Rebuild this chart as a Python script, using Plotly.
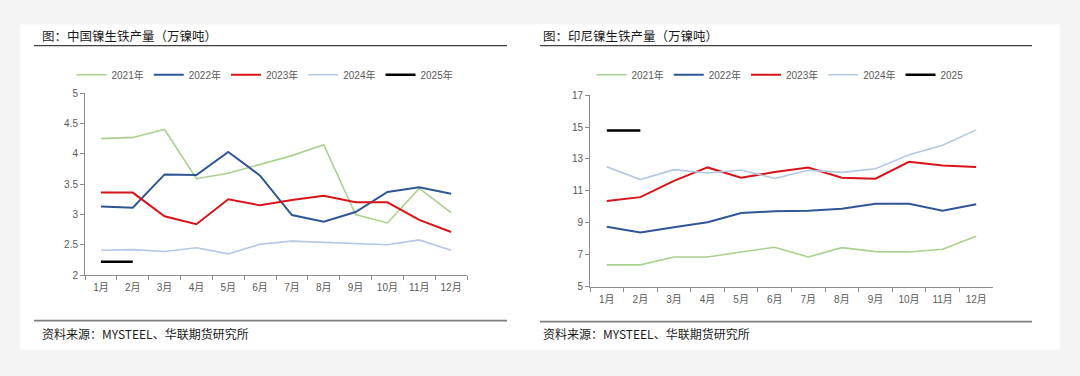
import plotly.graph_objects as go

months = ["1月", "2月", "3月", "4月", "5月", "6月", "7月", "8月", "9月", "10月", "11月", "12月"]

# China nickel pig iron output (10k t Ni)
cn_2021 = [4.25, 4.27, 4.40, 3.59, 3.68, 3.82, 3.97, 4.15, 3.00, 2.86, 3.43, 3.03]
cn_2022 = [3.13, 3.11, 3.66, 3.65, 4.03, 3.64, 2.99, 2.88, 3.04, 3.37, 3.45, 3.34]
cn_2023 = [3.36, 3.36, 2.97, 2.84, 3.25, 3.15, 3.24, 3.31, 3.20, 3.20, 2.91, 2.71]
cn_2024 = [2.41, 2.42, 2.39, 2.45, 2.35, 2.51, 2.56, 2.54, 2.51, 2.50, 2.58, 2.41]
cn_2025 = [2.22, 2.22]

# Indonesia nickel pig iron output (10k t Ni)
id_2021 = [6.37, 6.37, 6.86, 6.86, 7.18, 7.47, 6.86, 7.45, 7.20, 7.18, 7.35, 8.16]
id_2022 = [8.75, 8.39, 8.73, 9.04, 9.61, 9.73, 9.76, 9.88, 10.20, 10.20, 9.76, 10.16]
id_2023 = [10.37, 10.61, 11.63, 12.47, 11.82, 12.18, 12.47, 11.82, 11.76, 12.82, 12.59, 12.49]
id_2024 = [12.51, 11.71, 12.33, 12.12, 12.31, 11.78, 12.29, 12.16, 12.39, 13.27, 13.86, 14.82]
id_2025 = [14.78, 14.78]

cn_names = ["2021年", "2022年", "2023年", "2024年", "2025年"]
id_names = ["2021年", "2022年", "2023年", "2024年", "2025"]
colors = ["#a9d18e", "#2f5597", "#d7141a", "#b4c7e7", "#000000"]
widths = [1.6, 2.0, 2.0, 1.6, 2.5]

W, H = 1080, 376
def fx(px): return px / W
def fy(py): return 1 - py / H

fig = go.Figure()
cn_series = [cn_2021, cn_2022, cn_2023, cn_2024, cn_2025]
id_series = [id_2021, id_2022, id_2023, id_2024, id_2025]
for name, ys, c, w in zip(cn_names, cn_series, colors, widths):
    fig.add_trace(go.Scatter(x=months[:len(ys)], y=ys, name=name, mode="lines",
                             line=dict(color=c, width=w), xaxis="x", yaxis="y",
                             legend="legend"))
for name, ys, c, w in zip(id_names, id_series, colors, widths):
    fig.add_trace(go.Scatter(x=months[:len(ys)], y=ys, name=name, mode="lines",
                             line=dict(color=c, width=w), xaxis="x2", yaxis="y2",
                             legend="legend2"))

tickfont = dict(family="Liberation Sans, Noto Sans CJK SC", size=10, color="#595959")
axcommon = dict(showgrid=False, zeroline=False, showline=True, linecolor="#8c8c8c",
                linewidth=1, ticks="outside", tickcolor="#8c8c8c", ticklen=4,
                tickfont=tickfont, fixedrange=True)
legfont = dict(family="Liberation Sans, Noto Sans CJK SC", size=10, color="#595959")

fig.update_layout(
    width=W, height=H,
    margin=dict(l=0, r=0, t=0, b=0),
    paper_bgcolor="#f4f4f4",
    plot_bgcolor="rgba(0,0,0,0)",
    xaxis=dict(domain=[fx(85), fx(467)], anchor="y", type="category",
               categoryorder="array", categoryarray=months, tickson="boundaries",
               range=[-0.5, 11.5], ticklabelstandoff=3, **axcommon),
    yaxis=dict(domain=[fy(278), fy(90)], anchor="x", range=[2, 5], tick0=2, dtick=0.5, **axcommon),
    xaxis2=dict(domain=[fx(590), fx(993)], anchor="y2", type="category",
                categoryorder="array", categoryarray=months, tickson="boundaries",
                range=[-0.5, 11.5], ticklabelstandoff=3, **axcommon),
    yaxis2=dict(domain=[fy(290), fy(92)], anchor="x2", range=[5, 17], tick0=5, dtick=2, **axcommon),
    legend=dict(orientation="h", x=fx(265), y=fy(71), xanchor="center", yanchor="middle",
                font=legfont, itemwidth=30, bgcolor="rgba(0,0,0,0)", tracegroupgap=0),
    legend2=dict(orientation="h", x=fx(780), y=fy(71), xanchor="center", yanchor="middle",
                 font=legfont, itemwidth=30, bgcolor="rgba(0,0,0,0)", tracegroupgap=0),
    showlegend=True,
)

shapes = [
    dict(type="rect", xref="paper", yref="paper", x0=fx(20), x1=fx(1060), y0=fy(355), y1=fy(19),
         fillcolor="#ffffff", line=dict(width=0), layer="below"),
    dict(type="line", xref="paper", yref="paper", x0=fx(34), x1=fx(507), y0=fy(41), y1=fy(41),
         line=dict(color="#404040", width=1.3)),
    dict(type="line", xref="paper", yref="paper", x0=fx(540), x1=fx(1032), y0=fy(41), y1=fy(41),
         line=dict(color="#404040", width=1.3)),
    dict(type="line", xref="paper", yref="paper", x0=fx(34), x1=fx(507), y0=fy(325), y1=fy(325),
         line=dict(color="#7f7f7f", width=1.8)),
    dict(type="line", xref="paper", yref="paper", x0=fx(540), x1=fx(1032), y0=fy(326), y1=fy(326),
         line=dict(color="#7f7f7f", width=1.8)),
]
fig.update_layout(shapes=shapes)

tfont = dict(family="Noto Sans CJK SC", size=12.5, color="#1a1a1a")
sfont = dict(family="Noto Sans CJK SC", size=12, color="#1a1a1a")
annotations = [
    dict(text="图：中国镍生铁产量（万镍吨）", xref="paper", yref="paper", x=fx(40), y=fy(30),
         xanchor="left", yanchor="middle", showarrow=False, font=tfont),
    dict(text="图：印尼镍生铁产量（万镍吨）", xref="paper", yref="paper", x=fx(541), y=fy(30),
         xanchor="left", yanchor="middle", showarrow=False, font=tfont),
    dict(text="资料来源：MYSTEEL、华联期货研究所", xref="paper", yref="paper", x=fx(40), y=fy(338),
         xanchor="left", yanchor="middle", showarrow=False, font=sfont),
    dict(text="资料来源：MYSTEEL、华联期货研究所", xref="paper", yref="paper", x=fx(541), y=fy(338),
         xanchor="left", yanchor="middle", showarrow=False, font=sfont),
]
fig.update_layout(annotations=annotations)

fig.write_html("out.html", config={"displayModeBar": False},
               post_script="document.body.style.margin='0';document.body.style.overflow='hidden';")
